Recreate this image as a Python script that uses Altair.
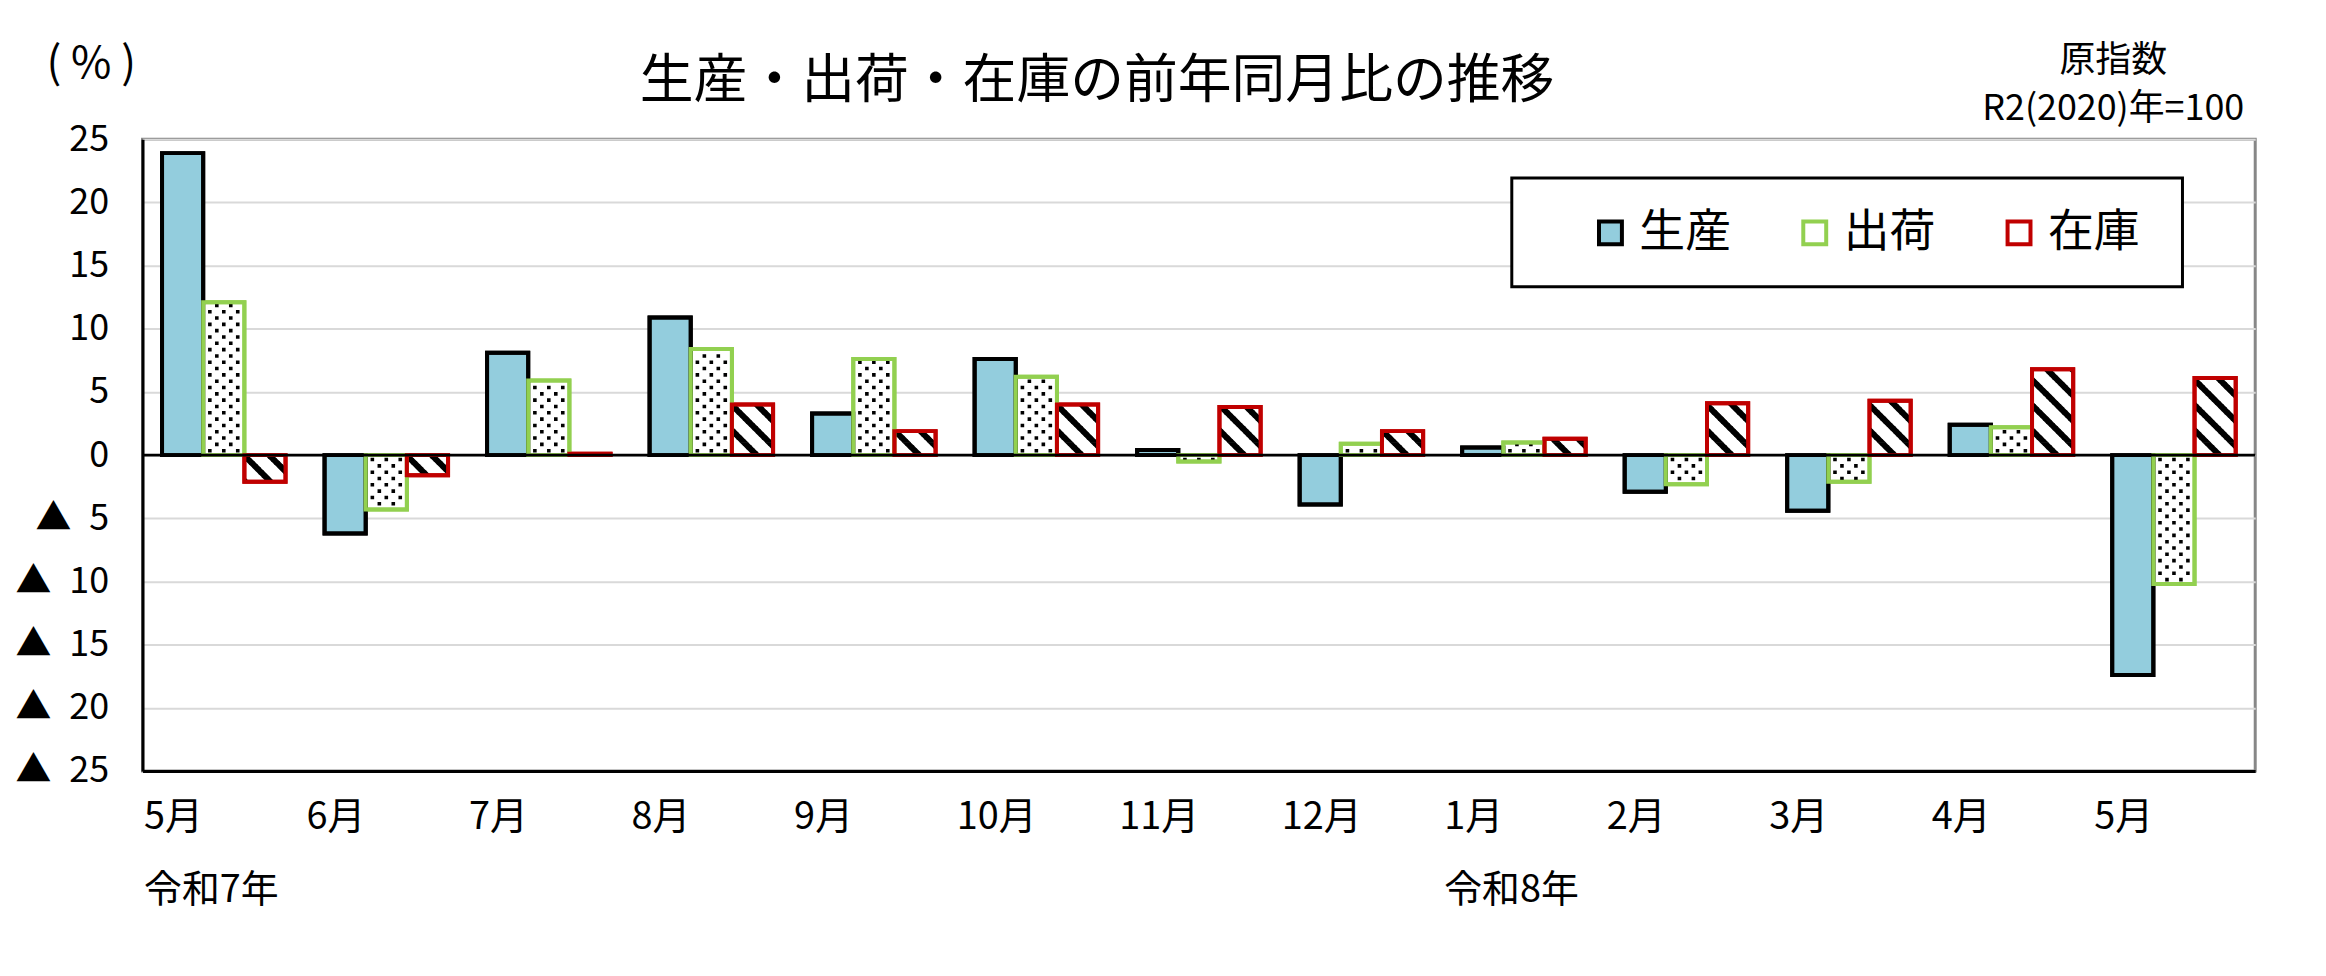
import json
import altair as alt
import pandas as pd

# ---------------- data ----------------
months = ["5月", "6月", "7月", "8月", "9月", "10月", "11月", "12月", "1月", "2月", "3月", "4月", "5月"]
eras = ["令和7年", "", "", "", "", "", "", "", "令和8年", "", "", "", ""]
series_names = ["生産", "出荷", "在庫"]
production = [23.9, -6.2, 8.1, 10.9, 3.3, 7.6, 0.4, -3.9, 0.6, -2.9, -4.4, 2.4, -17.4]
shipments = [12.1, -4.3, 5.9, 8.4, 7.6, 6.2, -0.5, 0.9, 1.0, -2.3, -2.1, 2.2, -10.2]
inventory = [-2.1, -1.6, 0.1, 4.0, 1.9, 4.0, 3.8, 1.9, 1.3, 4.1, 4.3, 6.8, 6.1]
y_ticks = [-25, -20, -15, -10, -5, 0, 5, 10, 15, 20, 25]

rows = []
for i in range(len(months)):
    for s, vals in zip(series_names, [production, shipments, inventory]):
        rows.append({"i": i, "series": s, "value": vals[i]})
df = pd.DataFrame(rows)

# ---------------- style ----------------
W, H = 2120, 634
NUM_FONT = "'Liberation Sans Narrow', 'Noto Sans CJK JP', sans-serif"
CJK_FONT = "'Noto Sans CJK JP', sans-serif"
PX_PER_UNIT = H / 50.0

# dotted texture rows (pixel-space symbol paths, size=4 -> scale 1)
def sq(cx, cy=0.0, s=3.6):
    return f"M{cx - s/2:.2f},{cy - s/2:.2f}h{s}v{s}h{-s}z"

dot_a = "".join(sq(c) for c in (-14, 0, 14))
dot_b = "".join(sq(c) for c in (-7, 7))

# hatched texture rows
ROW = 0.25
h = ROW * PX_PER_UNIT
P = 8 * h
T = 8.5
HALF = 20.2
EPS = 0.35


def clip(poly, xmin, xmax, ymin, ymax):
    def cl(pts, inside, inter):
        out = []
        for k in range(len(pts)):
            cur, prev = pts[k], pts[k - 1]
            if inside(cur):
                if not inside(prev):
                    out.append(inter(prev, cur))
                out.append(cur)
            elif inside(prev):
                out.append(inter(prev, cur))
        return out

    def ix(a, b, x):
        t = (x - a[0]) / (b[0] - a[0])
        return (x, a[1] + t * (b[1] - a[1]))

    def iy(a, b, y):
        t = (y - a[1]) / (b[1] - a[1])
        return (a[0] + t * (b[0] - a[0]), y)

    pts = poly
    for f in (
        lambda p: cl(p, lambda q: q[0] >= xmin, lambda a, b: ix(a, b, xmin)),
        lambda p: cl(p, lambda q: q[0] <= xmax, lambda a, b: ix(a, b, xmax)),
        lambda p: cl(p, lambda q: q[1] >= ymin, lambda a, b: iy(a, b, ymin)),
        lambda p: cl(p, lambda q: q[1] <= ymax, lambda a, b: iy(a, b, ymax)),
    ):
        if not pts:
            break
        pts = f(pts)
    return pts


stripe_paths = []
for j in range(8):
    y0, y1 = j * h - EPS, (j + 1) * h + EPS
    cy = (j + 0.5) * h
    parts = []
    for m in range(-4, 5):
        a = m * P
        lo, hi = y0 - 5, y1 + 5
        poly = [(lo + a, lo), (hi + a, hi), (hi + a + T, hi), (lo + a + T, lo)]
        pts = clip(poly, -HALF, HALF, y0, y1)
        if len(pts) >= 3:
            parts.append("M" + "L".join(f"{x:.2f},{y - cy:.2f}" for x, y in pts) + "Z")
    stripe_paths.append("".join(parts))

# ---------------- encodings ----------------
months_js = json.dumps(months, ensure_ascii=False)
eras_js = json.dumps(eras, ensure_ascii=False)
x_label_expr = (
    f"{eras_js}[datum.value] ? [{months_js}[datum.value], {eras_js}[datum.value]] : {months_js}[datum.value]"
)
y_label_expr = "datum.value < 0 ? '▲\u2002' + abs(datum.value) : datum.value"

x_scale = alt.Scale(domain=list(range(len(months))), paddingInner=0.24, paddingOuter=0.12)
y_scale = alt.Scale(domain=[-25, 25], nice=False, zero=False)
off_scale = alt.Scale(domain=series_names, paddingInner=0, paddingOuter=0)

x_axis = alt.Axis(
    labelExpr=x_label_expr, labelAlign="left", labelBaseline="top", labelOffset=-80,
    labelPadding=28, labelFontSize=38, labelFont=NUM_FONT, labelColor="black",
    labelLineHeight=73, labelOverlap=False, labelAngle=0, labelLimit=400,
    ticks=False, domain=True, domainColor="black", domainWidth=3, grid=False,
    title=["原指数", "R2(2020)年=100"], titleX=1977, titleY=-702, titleAlign="center",
    titleBaseline="alphabetic", titleFontSize=36, titleLineHeight=48, titleFont=NUM_FONT,
    titleFontWeight="normal", titleColor="black",
)
y_axis = alt.Axis(
    values=y_ticks, labelExpr=y_label_expr, labelFont=NUM_FONT, labelFontSize=36,
    labelColor="black", labelPadding=34, ticks=False, domain=True, domainColor="black",
    domainWidth=3, grid=True, gridColor="#D9D9D9", gridWidth=2,
    title="( % )", titleAngle=0, titleX=-52, titleY=-75, titleAlign="center",
    titleBaseline="middle", titleFont=NUM_FONT, titleFontSize=44, titleFontWeight="normal",
    titleColor="black",
)


def X():
    return alt.X("i:O", scale=x_scale, axis=x_axis)


def XO():
    return alt.XOffset("series:N", scale=off_scale)


def Y(field):
    return alt.Y(f"{field}:Q", scale=y_scale, axis=y_axis, stack=None)


fill_scale = alt.Scale(domain=series_names, range=["#93CDDD", "#FFFFFF", "#FFFFFF"])
stroke_scale = alt.Scale(domain=series_names, range=["#000000", "#92D050", "#C00000"])
legend = alt.Legend(
    title=None, orient="none", legendX=1450, legendY=71, direction="horizontal",
    columnPadding=61, symbolType="square", symbolSize=529, symbolStrokeWidth=4,
    labelFontSize=46, labelFont=CJK_FONT, labelColor="black", labelOffset=6, padding=0,
    labelLimit=300,
)

bars = alt.Chart(df).mark_bar(strokeWidth=4, opacity=1).encode(
    x=X(), xOffset=XO(), y=Y("value"),
    fill=alt.Fill("series:N", scale=fill_scale, legend=legend),
    stroke=alt.Stroke("series:N", scale=stroke_scale, legend=legend),
)

dots = (
    alt.Chart(df)
    .transform_filter(alt.datum.series == "出荷")
    .transform_calculate(k="sequence(0, floor(abs(datum.value) / 0.5))")
    .transform_flatten(["k"])
    .transform_calculate(
        yc="(datum.value < 0 ? -1 : 1) * (0.35 + 0.5 * datum.k)",
        pv="datum.k % 2 == 0 ? 'a' : 'b'",
    )
    .mark_point(filled=True, size=4, opacity=1, strokeOpacity=0, color="black")
    .encode(
        x=X(), xOffset=XO(), y=Y("yc"),
        shape=alt.Shape("pv:N", scale=alt.Scale(domain=["a", "b"], range=[dot_a, dot_b]), legend=None),
    )
)

stripes = (
    alt.Chart(df)
    .transform_filter(alt.datum.series == "在庫")
    .transform_calculate(k=f"sequence(0, floor(abs(datum.value) / {ROW}))")
    .transform_flatten(["k"])
    .transform_calculate(
        yc=f"(datum.value < 0 ? -1 : 1) * (datum.k + 0.5) * {ROW}",
        pv="'s' + (datum.value > 0 ? (8 - ((datum.k + 1) % 8)) % 8 : datum.k % 8)",
    )
    .mark_point(filled=True, size=4, opacity=1, strokeOpacity=0, color="black")
    .encode(
        x=X(), xOffset=XO(), y=Y("yc"),
        shape=alt.Shape("pv:N", scale=alt.Scale(domain=[f"s{j}" for j in range(8)], range=stripe_paths), legend=None),
    )
)

outlines = alt.Chart(df).mark_bar(strokeWidth=4, opacity=1, fillOpacity=0).encode(
    x=X(), xOffset=XO(), y=Y("value"),
    stroke=alt.Stroke("series:N", scale=stroke_scale, legend=None),
)

zero = alt.Chart(alt.Data(values=[{"z": 0}])).mark_rule(color="black", strokeWidth=3).encode(y=Y("z"))

frame = alt.Chart(alt.Data(values=[{"f": 1}])).mark_rect(fill="white", stroke="black", strokeWidth=3).encode(
    x=alt.value(1374), x2=alt.value(2047), y=alt.value(39), y2=alt.value(148)
)

chart = (
    alt.layer(bars, dots, stripes, outlines, zero, frame)
    .resolve_scale(shape="independent")
    .properties(
        width=W, height=H,
        padding={"left": 135, "top": 130, "right": 63, "bottom": 204},
        autosize=alt.AutoSizeParams(type="none"),
        title=alt.TitleParams(
            text="生産・出荷・在庫の前年同月比の推移", anchor="start", frame="group",
            dx=499, dy=71, fontSize=54, font=CJK_FONT, fontWeight="normal", color="black",
        ),
        background="white",
    )
    .configure_view(stroke="#878787", strokeWidth=3)
)

chart.save("out.html", embed_options={"renderer": "svg", "actions": False})
